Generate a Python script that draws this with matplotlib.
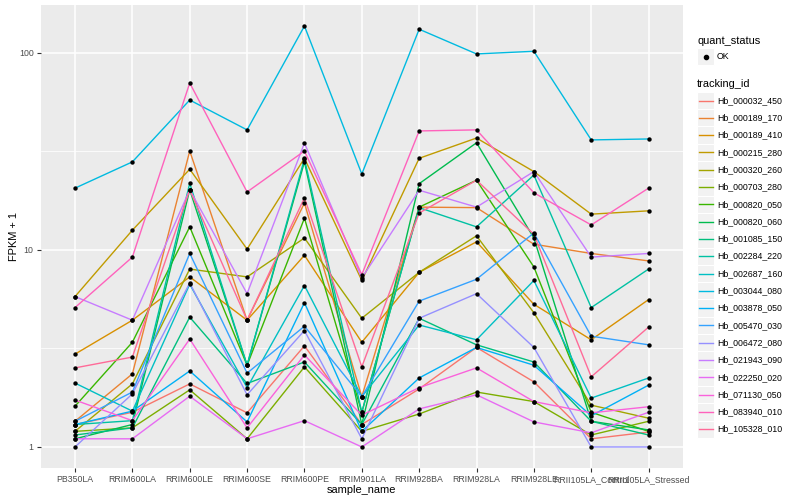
import numpy as np
import matplotlib
matplotlib.use('agg')
import matplotlib.pyplot as plt
import matplotlib.ticker as ticker
from matplotlib.patches import Rectangle
from matplotlib.lines import Line2D

plt.rcParams['font.family'] = ['Liberation Sans', 'DejaVu Sans']

samples = ["PB350LA", "RRIM600LA", "RRIM600LE", "RRIM600SE", "RRIM600PE", "RRIM901LA",
           "RRIM928BA", "RRIM928LA", "RRIM928LE", "RRII105LA_Control", "RRII105LA_Stressed"]

tracking_ids = ["Hb_000032_450", "Hb_000189_170", "Hb_000189_410", "Hb_000215_280",
                "Hb_000320_260", "Hb_000703_280", "Hb_000820_050", "Hb_000820_060",
                "Hb_001085_150", "Hb_002284_220", "Hb_002687_160", "Hb_003044_080",
                "Hb_003878_050", "Hb_005470_030", "Hb_006472_080", "Hb_021943_090",
                "Hb_022250_020", "Hb_071130_050", "Hb_083940_010", "Hb_105328_010"]

# FPKM + 1, one list per gene, in sample order
hb_000032_450 = [1.3, 1.5, 2.09, 1.49, 3.26, 1.3, 1.97, 3.2, 2.14, 1.1, 1.19]
hb_000189_170 = [1.35, 2.35, 31.8, 4.4, 17.3, 1.8, 16.5, 16.4, 10.7, 9.6, 8.8]
hb_000189_410 = [2.96, 4.4, 7.3, 4.4, 9.4, 3.4, 7.7, 11.0, 5.3, 3.5, 5.6]
hb_000215_280 = [5.8, 12.6, 25.7, 10.1, 29.2, 7.0, 29.2, 37.0, 25.0, 15.2, 15.8]
hb_000320_260 = [1.2, 2.09, 8.0, 7.3, 11.5, 4.5, 7.7, 11.8, 4.8, 1.63, 1.4]
hb_000703_280 = [1.2, 1.25, 1.95, 1.1, 2.55, 1.2, 1.47, 1.9, 1.7, 1.15, 1.35]
hb_000820_050 = [1.61, 3.4, 13.1, 2.6, 14.5, 1.5, 16.5, 22.6, 8.2, 1.5, 1.2]
hb_000820_060 = [1.1, 1.3, 20.2, 2.6, 28.0, 1.3, 21.7, 35.0, 11.5, 1.35, 1.22]
hb_001085_150 = [1.15, 1.25, 4.56, 2.1, 2.7, 1.3, 4.5, 3.3, 2.7, 1.35, 1.15]
hb_002284_220 = [1.3, 1.36, 21.8, 2.6, 29.0, 1.5, 16.4, 13.1, 24.0, 5.1, 8.0]
hb_002687_160 = [2.11, 1.52, 6.7, 2.0, 6.6, 1.8, 4.16, 3.5, 7.0, 1.77, 2.24]
hb_003044_080 = [20.6, 28.0, 57.7, 40.7, 137.0, 24.3, 132.0, 98.9, 102.0, 36.2, 36.6]
hb_003878_050 = [1.3, 1.52, 2.43, 1.34, 5.4, 1.2, 2.24, 3.2, 2.6, 1.44, 2.06]
hb_005470_030 = [1.35, 1.9, 9.6, 2.37, 4.1, 1.8, 5.5, 7.1, 12.2, 3.65, 3.3]
hb_006472_080 = [1.0, 1.86, 6.8, 1.84, 3.9, 1.1, 4.5, 6.0, 3.2, 1.0, 1.0]
hb_021943_090 = [5.8, 4.4, 20.2, 6.0, 34.9, 7.2, 20.1, 16.5, 25.0, 9.2, 9.6]
hb_022250_020 = [1.1, 1.1, 1.81, 1.1, 1.36, 1.0, 1.56, 1.84, 1.34, 1.18, 1.5]
hb_071130_050 = [1.73, 1.36, 3.53, 1.25, 2.93, 1.45, 2.0, 2.52, 1.7, 1.49, 1.6]
hb_083940_010 = [5.1, 9.2, 70.4, 19.7, 31.8, 7.5, 40.2, 40.7, 19.5, 13.4, 20.6]
hb_105328_010 = [2.52, 2.86, 20.2, 4.4, 18.4, 2.55, 15.4, 22.6, 12.0, 2.27, 4.06]

series = [hb_000032_450, hb_000189_170, hb_000189_410, hb_000215_280, hb_000320_260,
          hb_000703_280, hb_000820_050, hb_000820_060, hb_001085_150, hb_002284_220,
          hb_002687_160, hb_003044_080, hb_003878_050, hb_005470_030, hb_006472_080,
          hb_021943_090, hb_022250_020, hb_071130_050, hb_083940_010, hb_105328_010]


def hcl_to_rgb(h, c=100., l=65.):
    # polar LUV -> XYZ -> sRGB, like R's hcl()
    xn, yn, zn = 95.047, 100.0, 108.883
    u = c * np.cos(np.deg2rad(h))
    v = c * np.sin(np.deg2rad(h))
    y = yn * ((l + 16) / 116.) ** 3 if l > 8 else yn * l / 903.3
    den = xn + 15 * yn + 3 * zn
    un, vn = 4 * xn / den, 9 * yn / den
    up = u / (13 * l) + un
    vp = v / (13 * l) + vn
    x = 9.0 * y * up / (4 * vp)
    z = -x / 3. - 5 * y + 3 * y / vp
    xyz = np.array([x, y, z]) / 100.
    m = np.array([[3.240479, -1.537150, -0.498535],
                  [-0.969256, 1.875992, 0.041556],
                  [0.055648, -0.204043, 1.057311]])
    rgb = m.dot(xyz)
    rgb = np.where(rgb > 0.00304, 1.055 * np.power(np.clip(rgb, 1e-12, None), 1 / 2.4) - 0.055, 12.92 * rgb)
    return tuple(np.clip(rgb, 0, 1))


n = len(tracking_ids)
hues = np.linspace(15, 375, n + 1)[:-1]
palette = [hcl_to_rgb(h) for h in hues]

fig = plt.figure(figsize=[8, 5], dpi=100)
ax = fig.add_axes([40.6 / 800, 1 - 468 / 500, (683 - 40.6) / 800, (468 - 5) / 500])
ax.set_facecolor('#EBEBEB')

x = np.arange(1, len(samples) + 1)
for i in range(n):
    ax.plot(x, series[i], color=palette[i], lw=1.0, zorder=2)
for i in range(n):
    ax.scatter(x, series[i], s=10, c='k', zorder=3, linewidths=0)

ax.set_yscale('log')
allv = np.log10(np.concatenate([np.array(s) for s in series]))
lo, hi = allv.min(), allv.max()
pad = (hi - lo) * 0.05
ax.set_ylim(10 ** (lo - pad), 10 ** (hi + pad))
ax.set_xlim(0.4, len(samples) + 0.6)

ax.yaxis.set_major_locator(ticker.FixedLocator([1, 10, 100]))
ax.yaxis.set_major_formatter(ticker.FixedFormatter(['1', '10', '100']))
ax.yaxis.set_minor_locator(ticker.FixedLocator([10 ** 0.5, 10 ** 1.5]))
ax.yaxis.set_minor_formatter(ticker.NullFormatter())
ax.set_xticks(x)
ax.set_xticklabels(samples)

ax.grid(which='major', color='white', lw=1.1, zorder=0)
ax.grid(which='minor', axis='y', color='white', lw=0.55, zorder=0)
ax.set_axisbelow(True)
for sp in ax.spines.values():
    sp.set_visible(False)
ax.tick_params(axis='both', which='major', length=3, width=0.8, color='#333333',
               labelsize=6.3, labelcolor='#4D4D4D', pad=2)
ax.tick_params(axis='y', which='minor', length=0)

ax.set_xlabel('sample_name', fontsize=7.9, labelpad=1)
ax.set_ylabel('FPKM + 1', fontsize=7.9, labelpad=0)

# legends drawn by hand, ggplot style
W, H = 800., 500.
kx, kw = 697., 17.3
fig.text(kx / W, 1 - 41 / H, 'quant_status', fontsize=7.9, va='center', ha='left')
fig.add_artist(Rectangle((kx / W, 1 - 65 / H), kw / W, kw / H, transform=fig.transFigure,
                         facecolor='#F2F2F2', edgecolor='white', lw=0.8))
fig.add_artist(Line2D([(kx + kw / 2) / W], [1 - 56.5 / H], transform=fig.transFigure,
                      marker='o', ms=3, color='k', lw=0))
fig.text(717 / W, 1 - 56.5 / H, 'OK', fontsize=6.3, va='center', ha='left')

fig.text(kx / W, 1 - 84 / H, 'tracking_id', fontsize=7.9, va='center', ha='left')
for i in range(n):
    cy = 100.5 + i * kw
    fig.add_artist(Rectangle((kx / W, 1 - (cy + kw / 2) / H), kw / W, kw / H,
                             transform=fig.transFigure, facecolor='#F2F2F2',
                             edgecolor='white', lw=0.8))
    fig.add_artist(Line2D([(kx + 1.5) / W, (kx + kw - 1.5) / W], [1 - cy / H, 1 - cy / H],
                          transform=fig.transFigure, color=palette[i], lw=1.0))
    fig.text(717 / W, 1 - cy / H, tracking_ids[i], fontsize=6.3, va='center', ha='left')

plt.savefig('out.png', dpi=100)
plt.close()
